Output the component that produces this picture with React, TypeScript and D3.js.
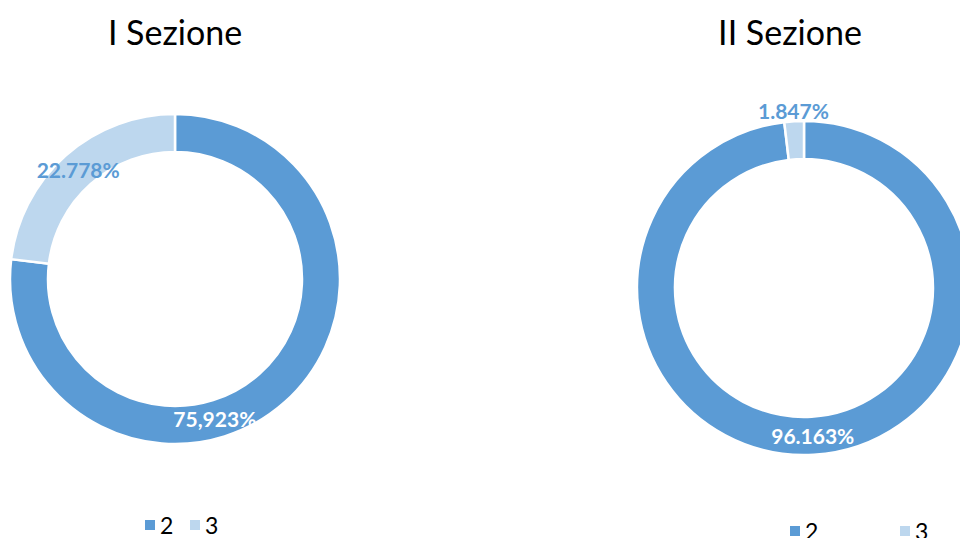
import React from "react";
import * as d3 from "d3";

const categories = ["2", "3"];
const section1Values = [75.923, 22.778];
const section1Labels = ["75,923%", "22.778%"];
const section2Values = [96.163, 1.847];
const section2Labels = ["96.163%", "1.847%"];
const titles = ["I Sezione", "II Sezione"];

const colors = ["#5B9BD5", "#BDD7EE"];
const FONT = "Lato, 'Open Sans', sans-serif";

type DonutProps = {
  cx: number;
  cy: number;
  rOuter: number;
  rInner: number;
  values: number[];
  labels: string[];
  labelMode: ("centroid" | "outside" | "shift")[];
  shift?: [number, number];
};

function Donut({ cx, cy, rOuter, rInner, values, labels, labelMode, shift }: DonutProps) {
  const pie = d3.pie<number>().sort(null).value((d) => d);
  const arcs = pie(values);
  const arc = d3.arc<d3.PieArcDatum<number>>().innerRadius(rInner).outerRadius(rOuter);
  const outerArc = d3
    .arc<d3.PieArcDatum<number>>()
    .innerRadius(rOuter + 11)
    .outerRadius(rOuter + 11);
  return (
    <g transform={`translate(${cx},${cy})`}>
      {arcs.map((a, i) => (
        <path key={i} d={arc(a) || ""} fill={colors[i]} stroke="#fff" strokeWidth={2.5} />
      ))}
      {arcs.map((a, i) => {
        let [x, y] = labelMode[i] === "outside" ? outerArc.centroid(a) : arc.centroid(a);
        if (labelMode[i] === "shift" && shift) {
          x += shift[0];
          y += shift[1];
        }
        const inside = labelMode[i] !== "outside" && i === 0;
        return (
          <text
            key={"t" + i}
            x={x}
            y={y}
            textAnchor="middle"
            dominantBaseline="central"
            fontFamily={FONT}
            fontWeight="bold"
            fontSize={21}
            fill={inside ? "#fff" : colors[0]}
          >
            {labels[i]}
          </text>
        );
      })}
    </g>
  );
}

function Legend({ x, y, gap }: { x: number; y: number; gap: number }) {
  return (
    <g transform={`translate(${x},${y})`}>
      {categories.map((c, i) => (
        <g key={c} transform={`translate(${i * gap},0)`}>
          <rect x={0} y={-5} width={10} height={10} fill={colors[i]} />
          <text x={15} y={0} dominantBaseline="central" fontFamily={FONT} fontSize={23} fill="#000">
            {c}
          </text>
        </g>
      ))}
    </g>
  );
}

export default function App() {
  return (
    <svg
      width={960}
      height={538}
      style={{ position: "absolute", left: 0, top: 0, background: "#fff" }}
    >
      <text x={175} y={31} textAnchor="middle" dominantBaseline="central" fontFamily={FONT} fontSize={34} fill="#000">
        {titles[0]}
      </text>
      <text x={790} y={31} textAnchor="middle" dominantBaseline="central" fontFamily={FONT} fontSize={34} fill="#000">
        {titles[1]}
      </text>
      <Donut
        cx={175}
        cy={279}
        rOuter={165}
        rInner={127}
        values={section1Values}
        labels={section1Labels}
        labelMode={["shift", "centroid"]}
        shift={[-57, 30]}
      />
      <Donut
        cx={804}
        cy={288}
        rOuter={167}
        rInner={129}
        values={section2Values}
        labels={section2Labels}
        labelMode={["centroid", "outside"]}
      />
      <Legend x={145} y={525} gap={45} />
      <Legend x={790} y={531} gap={110} />
    </svg>
  );
}
